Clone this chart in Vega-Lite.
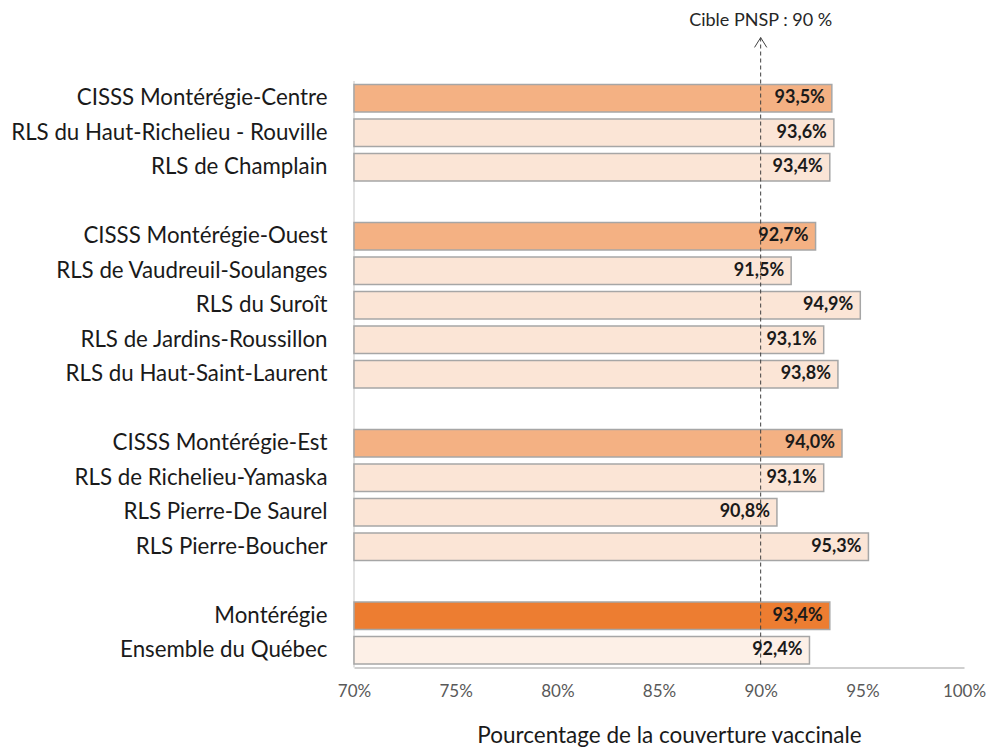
{
  "$schema": "https://vega.github.io/schema/vega-lite/v6.json",
  "width": 610,
  "height": 655.5,
  "autosize": {"type": "none"},
  "padding": {"left": 354, "top": 12, "right": 27, "bottom": 86.5},
  "background": "white",
  "config": {
    "view": {"stroke": null},
    "font": "Lato",
    "locale": {"number": {"decimal": ",", "thousands": " ", "grouping": [3], "currency": ["", " $"]}}
  },
  "datasets": {
    "couverture": [
      {"name": "CISSS Montérégie-Centre", "v": 0.935, "type": "CISSS"},
      {"name": "RLS du Haut-Richelieu - Rouville", "v": 0.936, "type": "RLS"},
      {"name": "RLS de Champlain", "v": 0.934, "type": "RLS"},
      {"name": "CISSS Montérégie-Ouest", "v": 0.927, "type": "CISSS"},
      {"name": "RLS de Vaudreuil-Soulanges", "v": 0.915, "type": "RLS"},
      {"name": "RLS du Suroît", "v": 0.949, "type": "RLS"},
      {"name": "RLS de Jardins-Roussillon", "v": 0.931, "type": "RLS"},
      {"name": "RLS du Haut-Saint-Laurent", "v": 0.938, "type": "RLS"},
      {"name": "CISSS Montérégie-Est", "v": 0.94, "type": "CISSS"},
      {"name": "RLS de Richelieu-Yamaska", "v": 0.931, "type": "RLS"},
      {"name": "RLS Pierre-De Saurel", "v": 0.908, "type": "RLS"},
      {"name": "RLS Pierre-Boucher", "v": 0.953, "type": "RLS"},
      {"name": "Montérégie", "v": 0.934, "type": "Montérégie"},
      {"name": "Ensemble du Québec", "v": 0.924, "type": "Québec"}
    ],
    "cible": [{"target": 0.9, "label": "Cible PNSP : 90 %", "base": 0.7, "row": "__label"}]
  },
  "encoding": {
    "y": {
      "field": "name",
      "type": "nominal",
      "scale": {
        "domain": ["__label", "__arrow",
          "CISSS Montérégie-Centre", "RLS du Haut-Richelieu - Rouville", "RLS de Champlain", "__gap1",
          "CISSS Montérégie-Ouest", "RLS de Vaudreuil-Soulanges", "RLS du Suroît", "RLS de Jardins-Roussillon", "RLS du Haut-Saint-Laurent", "__gap2",
          "CISSS Montérégie-Est", "RLS de Richelieu-Yamaska", "RLS Pierre-De Saurel", "RLS Pierre-Boucher", "__gap3",
          "Montérégie", "Ensemble du Québec"],
        "paddingInner": 0.2,
        "paddingOuter": 0.1
      },
      "axis": {
        "title": null,
        "ticks": false,
        "domain": false,
        "labelFontSize": 22.3,
        "labelLimit": 400,
        "labelColor": "#1a1a1a",
        "labelPadding": 27,
        "labelExpr": "indexof(datum.label, '__') === 0 ? '' : datum.label"
      }
    }
  },
  "layer": [
    {
      "data": {"name": "cible"},
      "mark": {"type": "rule", "color": "#D9D9D9", "strokeWidth": 1.5},
      "encoding": {
        "x": {"field": "base", "type": "quantitative"},
        "y": {"datum": "CISSS Montérégie-Centre", "bandPosition": -0.125},
        "y2": {"datum": "Ensemble du Québec", "bandPosition": 1.125}
      }
    },
    {
      "data": {"name": "couverture"},
      "mark": {"type": "bar", "stroke": "#A6A6A6", "strokeWidth": 1.5},
      "encoding": {
        "x": {
          "field": "v",
          "type": "quantitative",
          "scale": {"domain": [0.7, 1.0], "zero": false, "nice": false},
          "axis": {
            "values": [0.7, 0.75, 0.8, 0.85, 0.9, 0.95, 1.0],
            "format": ".0%",
            "grid": false,
            "ticks": false,
            "labelFlush": false,
            "domainColor": "#BFBFBF",
            "domainWidth": 1.5,
            "labelFontSize": 17,
            "labelColor": "#595959",
            "labelPadding": 16,
            "title": "Pourcentage de la couverture vaccinale",
            "titleFontSize": 22.5,
            "titleFontWeight": "normal",
            "titleColor": "#1a1a1a",
            "titlePadding": 25,
            "titleX": 315
          }
        },
        "x2": {"datum": 0.7},
        "color": {
          "field": "type",
          "type": "nominal",
          "scale": {"domain": ["CISSS", "RLS", "Montérégie", "Québec"], "range": ["#F4B183", "#FBE5D6", "#ED7D31", "#FDF0E7"]},
          "legend": null
        }
      }
    },
    {
      "data": {"name": "cible"},
      "mark": {"type": "rule", "color": "#404040", "strokeWidth": 1, "strokeDash": [4, 3]},
      "encoding": {
        "x": {"field": "target", "type": "quantitative"},
        "y": {"datum": "__label", "bandPosition": 0.8},
        "y2": {"datum": "Ensemble du Québec", "bandPosition": 1.125}
      }
    },
    {
      "data": {"name": "cible"},
      "mark": {"type": "point", "shape": "M-1,0.8L0,-0.8L1,0.8", "filled": false, "fill": null, "stroke": "#404040", "strokeWidth": 1, "size": 150, "opacity": 1},
      "encoding": {
        "x": {"field": "target", "type": "quantitative"},
        "y": {"field": "row", "type": "nominal", "bandPosition": 0.98}
      }
    },
    {
      "data": {"name": "cible"},
      "mark": {"type": "text", "fontSize": 18, "color": "#262626", "dy": -8},
      "encoding": {
        "x": {"field": "target", "type": "quantitative"},
        "y": {"field": "row", "type": "nominal"},
        "text": {"field": "label"}
      }
    },
    {
      "data": {"name": "couverture"},
      "mark": {"type": "text", "align": "right", "dx": -7, "fontSize": 18, "fontWeight": "bold", "color": "#1a1a1a"},
      "encoding": {
        "x": {"field": "v", "type": "quantitative"},
        "text": {"field": "v", "type": "quantitative", "format": ".1%"}
      }
    }
  ]
}
